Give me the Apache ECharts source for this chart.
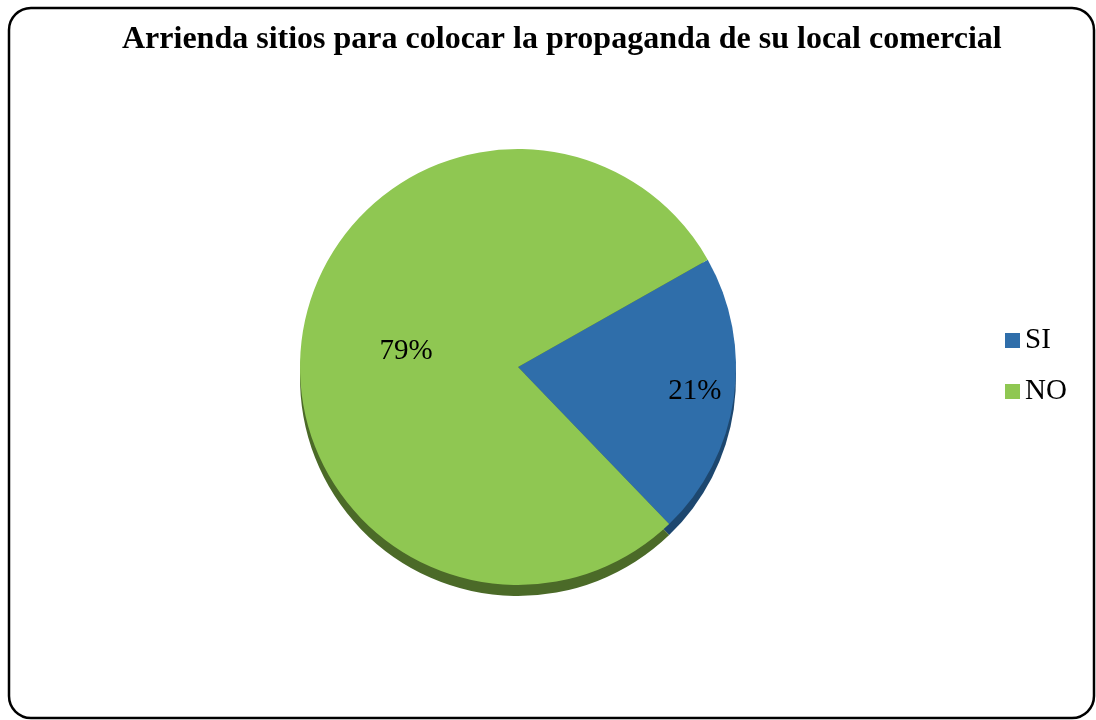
<!DOCTYPE html>
<html>
<head>
<meta charset="utf-8">
<script src="https://cdn.jsdelivr.net/npm/echarts@6/dist/echarts.min.js"></script>
<style>
  html, body { margin: 0; padding: 0; background: #ffffff; }
  #chart { width: 1096px; height: 720px; }
</style>
</head>
<body>
<div id="chart"></div>
<script>
// Survey answers and their shares (percent)
const categories = ['SI', 'NO'];
const shares = [21, 79];
const faceColors = ['#2F6EAA', '#8FC752'];
const rimColors = ['#1D476F', '#4B6A28'];
const titleText = 'Arrienda sitios para colocar la propaganda de su local comercial';

// Per-slice nudges for the percentage labels inside the pie
const labelNudge = [[66, 8], [-1, 1]];

const serif = '"Liberation Serif", "Times New Roman", serif';
const chart = echarts.init(document.getElementById('chart'), null, { renderer: 'canvas' });

const pieCenter = [518, 367];
const pieRadius = 218;
const startAngle = 29.5;

chart.setOption({
  animation: false,
  backgroundColor: '#ffffff',
  title: {
    text: titleText,
    left: 117,
    top: 19,
    textStyle: { fontFamily: serif, fontWeight: 'bold', fontSize: 32, color: '#000000' }
  },
  legend: {
    orient: 'vertical',
    left: 1000,
    top: 321,
    itemWidth: 15,
    itemHeight: 15,
    itemGap: 22,
    icon: 'rect',
    data: categories,
    textStyle: { fontFamily: serif, fontSize: 29, color: '#000000' }
  },
  graphic: [{
    type: 'rect',
    shape: { x: 9, y: 8, width: 1085, height: 710, r: 22 },
    style: { fill: null, stroke: '#000000', lineWidth: 2.5 },
    z: 100
  }],
  series: [
    {
      type: 'pie',
      name: 'face',
      center: pieCenter,
      radius: pieRadius,
      startAngle: startAngle,
      clockwise: true,
      z: 2,
      label: {
        show: true,
        position: 'inside',
        formatter: p => p.value + '%',
        fontFamily: serif,
        fontSize: 29,
        color: '#000000'
      },
      labelLine: { show: false },
      labelLayout: p => ({ dx: labelNudge[p.dataIndex][0], dy: labelNudge[p.dataIndex][1] }),
      data: categories.map((c, i) => ({ name: c, value: shares[i], itemStyle: { color: faceColors[i] } }))
    },
    {
      // darker copy underneath gives the pie its raised edge
      type: 'pie',
      name: 'rim',
      silent: true,
      legendHoverLink: false,
      center: [pieCenter[0], pieCenter[1] + 11],
      radius: pieRadius,
      startAngle: startAngle,
      clockwise: true,
      label: { show: false },
      labelLine: { show: false },
      z: 1,
      data: categories.map((c, i) => ({ name: c, value: shares[i], itemStyle: { color: rimColors[i] } }))
    }
  ]
});
</script>
</body>
</html>
